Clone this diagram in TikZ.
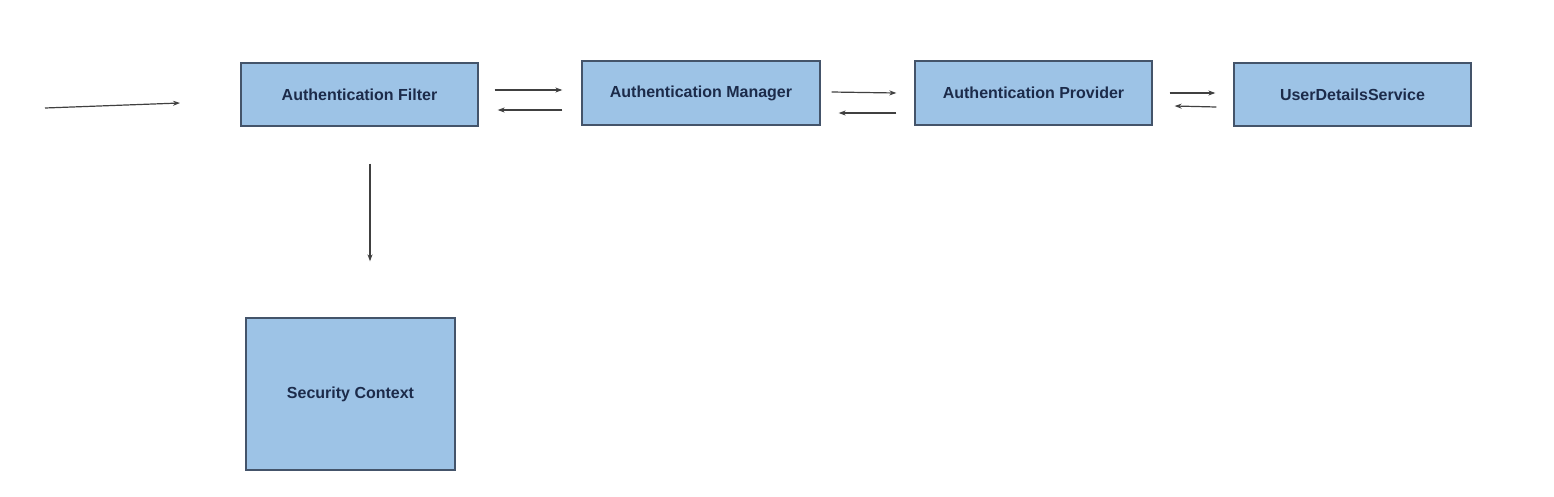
\documentclass[tikz,border=0pt]{standalone}
\usepackage{fontspec}
\setmainfont{Liberation Sans}
\usetikzlibrary{arrows.meta}
\definecolor{boxblue}{HTML}{9DC3E6}
\definecolor{boxline}{HTML}{44546A}
\definecolor{labelnavy}{HTML}{1C2B4A}
\definecolor{arrowgrey}{HTML}{404040}
\begin{document}
\begin{tikzpicture}[x=1pt,y=-1pt,>={Stealth[length=7pt,width=5pt]}]
% Estilos
\tikzset{
  block/.style={rectangle, draw=boxline, line width=1.3pt, fill=boxblue, text=labelnavy, font=\bfseries\fontsize{16}{19}\selectfont, inner sep=0pt, minimum width=237pt, minimum height=63pt},
  flow/.style={->, draw=arrowgrey, line width=1.2pt}
}
\useasboundingbox (0,0) rectangle (1554,496);

% Componentes
\node[block] (filter) at (359.5,94.5) {Authentication Filter};
\node[block, minimum width=238pt, minimum height=64pt] (manager) at (701,93) {Authentication Manager};
\node[block, minimum height=64pt] (provider) at (1033.5,93) {Authentication Provider};
\node[block] (uds) at (1352.5,94.5) {UserDetailsService};
\node[block, minimum width=209pt, minimum height=152pt] (context) at (350.5,394) {Security Context};

% Entrada
\coordinate (client) at (45,108);
\coordinate (entry) at (180,103);
\draw[flow] (client) -- (entry);

% Fluxo entre componentes
\draw[flow] ([shift={(16,-4.5)}]filter.east) -- ([shift={(-19,-3)}]manager.west);
\draw[flow] ([shift={(-19,17)}]manager.west) -- ([shift={(19,15.5)}]filter.east);
\draw[flow] ([shift={(11,-1)}]manager.east) -- ([shift={(-18,0)}]provider.west);
\draw[flow] ([shift={(-18,20)}]provider.west) -- ([shift={(18,20)}]manager.east);
\draw[flow] ([shift={(17,0)}]provider.east) -- ([shift={(-18,-1.5)}]uds.west);
\draw[flow] ([shift={(-17,12.5)}]uds.west) -- ([shift={(22,13)}]provider.east);
\draw[flow] ([shift={(10.5,37)}]filter.south) -- ([shift={(19.5,-56)}]context.north);

\end{tikzpicture}
\end{document}
